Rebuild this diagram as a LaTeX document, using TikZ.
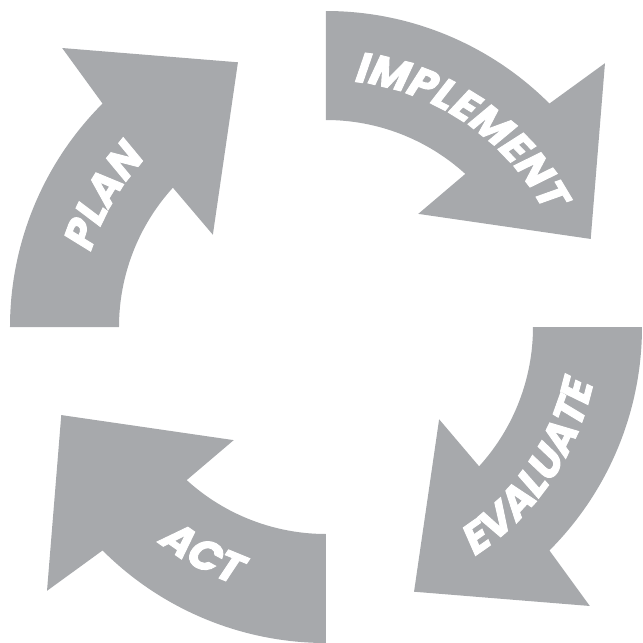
\documentclass[tikz,border=0pt]{standalone}
\usepackage{fontspec}
\newfontfamily\setafont{Poppins}[FakeSlant=0.2, FakeBold=2.2]
\usetikzlibrary{decorations.text}
\newcommand\rotulo{\setafont\bfseries\fontsize{17}{17}\selectfont\color{white}}

\begin{document}
\begin{tikzpicture}[x=0.4pt, y=0.4pt]
    % Cor das setas
    \definecolor{cinza}{HTML}{A7A9AC}
    \useasboundingbox (-326,-316) rectangle (317,327);

    % Setas curvas (a mesma seta girada de 90 em 90 graus)
    \foreach \rot in {0,-90,-180,-270} {
        \fill[cinza, rotate=\rot] (180:316) arc[start angle=180, end angle=135, radius=316]
            -- (133.4:384) -- (108.4:279) -- (140.8:146) -- (137.7:207)
            arc[start angle=137.7, end angle=180, radius=207] -- cycle;
    }

    % Rotulos ao longo dos arcos: {inicio/fim/raio/texto}
    \foreach \ini/\fim/\raio/\txt in {190/110/247/PLAN, 95.9/15.9/247/IMPLEMENT, -74.8/5.2/273/EVALUATE, 201/281/273/ACT} {
        \path[decorate, decoration={text along path, text align=center, text/.expanded={|\noexpand\rotulo|\txt}}]
            (\ini:\raio) arc[start angle=\ini, end angle=\fim, radius=\raio];
    }
\end{tikzpicture}
\end{document}
